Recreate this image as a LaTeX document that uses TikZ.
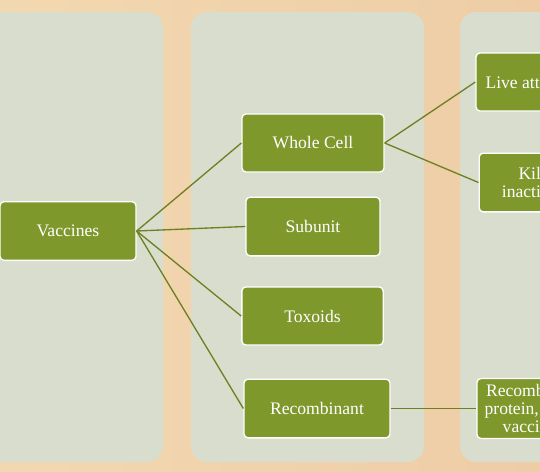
\documentclass[tikz,border=0pt]{standalone}
\usepackage{tikz}
\usepackage{fontspec}
\setmainfont{Liberation Serif}
\definecolor{wood}{RGB}{238,205,166}
\definecolor{woodlight}{RGB}{242,216,176}
\definecolor{panel}{RGB}{217,221,206}
\definecolor{leaf}{RGB}{126,152,44}
\definecolor{stem}{RGB}{108,130,34}

\begin{document}
\begin{tikzpicture}[x=0.75pt,y=-0.75pt,
  box/.style={draw=white,line width=1pt,fill=leaf,text=white,rounded corners=3pt,
    align=center,inner sep=0pt,font=\fontsize{13.2}{13.5}\selectfont},
  link/.style={draw=stem,line width=1pt}]
\useasboundingbox (0,0) rectangle (540,472);
\clip (0,0) rectangle (540,472);
% background and panels
\shade[left color=woodlight,right color=wood] (0,0) rectangle (540,472);
\fill[panel,rounded corners=12pt] (-30,12) rectangle (163,462);
\fill[panel,rounded corners=12pt] (191,12) rectangle (424,462);
\fill[panel,rounded corners=12pt] (460,12) rectangle (600,462);
% nodes
\node[box,minimum width=102pt,minimum height=44pt] (vac) at (68,231) {Vaccines};
\node[box,minimum width=106.5pt,minimum height=43.5pt] (whole) at (313,143) {Whole Cell};
\node[box,minimum width=100.5pt,minimum height=44pt] (sub) at (313,226.5) {Subunit};
\node[box,minimum width=106pt,minimum height=43.5pt] (tox) at (312.5,316) {Toxoids};
\node[box,minimum width=109.5pt,minimum height=44pt] (rec) at (317,408.5) {Recombinant};
\node[box,minimum width=96pt,minimum height=43.5pt] (live) at (540,82) {Live attenuated};
\node[box,minimum width=92pt,minimum height=44pt] (kill) at (540.5,182.5) {Killed\\inactivated};
\node[box,minimum width=84pt,minimum height=45pt] (recp) at (533,408.5) {Recombinant\\protein, DNA\\vaccines};
% connectors
\draw[link] (vac.east) -- (whole.west);
\draw[link] (vac.east) -- (sub.west);
\draw[link] (vac.east) -- (tox.west);
\draw[link] (vac.east) -- (rec.west);
\draw[link] (whole.east) -- (live.west);
\draw[link] (whole.east) -- (kill.west);
\draw[link] (rec.east) -- (recp.west);
\end{tikzpicture}
\end{document}
